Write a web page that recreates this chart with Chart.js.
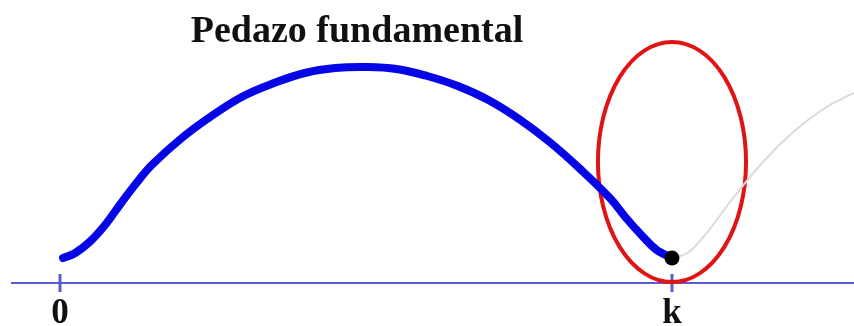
<!DOCTYPE html>
<html>
<head>
<meta charset="utf-8">
<script src="https://cdn.jsdelivr.net/npm/chart.js@4"></script>
<style>
  body { margin: 0; background: #fff; }
  canvas { display: block; }
</style>
</head>
<body>
<canvas id="chart" width="854" height="326"></canvas>
<script>
// Curve samples (x in units where k = 10)
var xValues = [0.05, 0.25, 0.5, 0.75, 1, 1.25, 1.5, 2, 2.5, 3, 3.5, 4, 4.5, 5, 5.5, 6, 6.5, 7, 7.5, 8, 8.5, 9, 9.25, 9.5, 9.75, 10];
var blueY = [0.25, 0.30, 0.42, 0.59, 0.80, 1.00, 1.18, 1.455, 1.68, 1.87, 2.00, 2.10, 2.15, 2.16, 2.14, 2.07, 1.97, 1.83, 1.64, 1.41, 1.14, 0.84, 0.65, 0.48, 0.33, 0.25];
var grayX = [10, 10.25, 10.5, 11, 11.5, 12, 12.5, 13];
var grayY = [0.25, 0.30, 0.45, 0.85, 1.22, 1.52, 1.75, 1.91];
var dotPoint = [10, 0.25];
var tickValues = [0, 10];
var tickLabels = ['0', 'k'];
var ellipse = [10, 1.21, 1.21, 1.20]; // cx, cy, rx, ry
var titleText = 'Pedazo fundamental';

function toPoints(xs, ys) {
  return xs.map(function(x, i) { return { x: x, y: ys[i] }; });
}

var axisColor = '#5a5ad2';

var extras = {
  id: 'extras',
  beforeDatasetsDraw: function(chart) {
    var ctx = chart.ctx;
    var xs = chart.scales.x, ys = chart.scales.y;
    // tick marks crossing the axis
    ctx.save();
    ctx.strokeStyle = axisColor;
    ctx.lineWidth = 3;
    tickValues.forEach(function(v) {
      var px = xs.getPixelForValue(v);
      ctx.beginPath();
      ctx.moveTo(px, chart.chartArea.bottom - 9);
      ctx.lineTo(px, chart.chartArea.bottom + 9);
      ctx.stroke();
    });
    // red ellipse
    var cx = xs.getPixelForValue(ellipse[0]);
    var cy = ys.getPixelForValue(ellipse[1]);
    var rx = xs.getPixelForValue(ellipse[0] + ellipse[2]) - cx;
    var ry = cy - ys.getPixelForValue(ellipse[1] + ellipse[3]);
    ctx.strokeStyle = '#e01414';
    ctx.lineWidth = 4;
    ctx.beginPath();
    ctx.ellipse(cx, cy, rx, ry, 0, 0, Math.PI * 2);
    ctx.stroke();
    ctx.restore();
  },
  afterDraw: function(chart) {
    var ctx = chart.ctx;
    ctx.save();
    ctx.fillStyle = '#111';
    ctx.font = 'bold 38px "Liberation Serif", serif';
    ctx.textAlign = 'center';
    ctx.textBaseline = 'alphabetic';
    ctx.fillText(titleText, 357, 42);
    ctx.restore();
  }
};

new Chart(document.getElementById('chart').getContext('2d'), {
  type: 'line',
  data: {
    datasets: [
      {
        data: [{ x: dotPoint[0], y: dotPoint[1] }],
        showLine: false,
        pointRadius: 7.5,
        pointBackgroundColor: '#000',
        pointBorderWidth: 0,
        order: 0
      },
      {
        data: toPoints(xValues, blueY),
        borderColor: '#0505e6',
        borderWidth: 8,
        pointRadius: 0,
        tension: 0.4,
        borderCapStyle: 'round',
        borderJoinStyle: 'round',
        order: 1
      },
      {
        data: toPoints(grayX, grayY),
        borderColor: '#dadada',
        borderWidth: 2,
        pointRadius: 0,
        tension: 0.4,
        order: 2
      }
    ]
  },
  options: {
    responsive: false,
    animation: false,
    layout: { autoPadding: false, padding: { left: 12, right: 0, top: 0, bottom: 0 } },
    plugins: {
      legend: { display: false },
      title: { display: false },
      tooltip: { enabled: false }
    },
    scales: {
      x: {
        type: 'linear',
        min: -0.784,
        max: 12.974,
        afterBuildTicks: function(scale) {
          scale.ticks = tickValues.map(function(v) { return { value: v }; });
        },
        afterFit: function(scale) { scale.height = 43; },
        grid: { display: false, drawTicks: true, tickLength: 8 },
        border: { display: true, color: axisColor, width: 2 },
        ticks: {
          autoSkip: false,
          maxRotation: 0,
          padding: 2,
          color: '#111',
          font: { family: '"Liberation Serif", serif', weight: 'bold', size: 35 },
          callback: function(value) {
            var i = tickValues.indexOf(value);
            return i >= 0 ? tickLabels[i] : '';
          }
        }
      },
      y: {
        display: false,
        min: 0,
        max: 2.83
      }
    }
  },
  plugins: [extras]
});
</script>
</body>
</html>
